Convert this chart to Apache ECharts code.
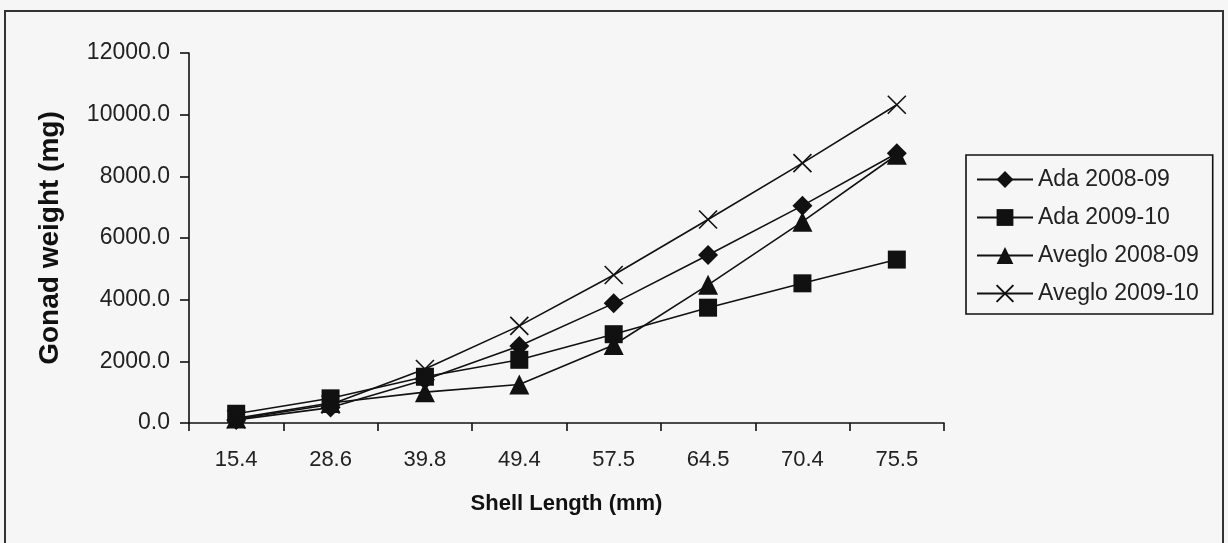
<!DOCTYPE html>
<html><head><meta charset="utf-8">
<script src="https://cdn.jsdelivr.net/npm/echarts@6/dist/echarts.min.js"></script>
<style>html,body{margin:0;padding:0;background:#f6f6f6;}#c{width:1228px;height:543px;}
#frame{position:absolute;left:4px;top:10px;width:1220px;height:560px;border:2px solid #333;box-sizing:border-box;pointer-events:none;}</style>
</head><body><div id="c"></div><div id="frame"></div>
<script>
const categories = ['15.4','28.6','39.8','49.4','57.5','64.5','70.4','75.5'];
const ada0809 = [100, 500, 1400, 2500, 3880, 5450, 7050, 8750];
const ada0910 = [300, 800, 1500, 2050, 2880, 3740, 4530, 5300];
const aveglo0809 = [150, 650, 1000, 1250, 2530, 4480, 6530, 8700];
const aveglo0910 = [120, 600, 1750, 3150, 4800, 6600, 8430, 10320];
const yTicks = [0, 2000, 4000, 6000, 8000, 10000, 12000];

const chart = echarts.init(document.getElementById('c'), null, {renderer:'canvas'});
const font = 'Liberation Sans, Arial, sans-serif';
function mk(name, data, symbol, size, extra){
  return Object.assign({
    name, type:'line', data, symbol, symbolSize:size,
    lineStyle:{color:'#111', width:1.6},
    itemStyle:{color:'#111'},
    emphasis:{disabled:true}, animation:false
  }, extra||{});
}
chart.setOption({
  backgroundColor:'#f6f6f6',
  animation:false,
  textStyle:{fontFamily:font},
  grid:{left:189, top:53, right:284, bottom:120},
  xAxis:{
    type:'category', data:categories, boundaryGap:true,
    axisLine:{lineStyle:{color:'#111', width:1.6}},
    axisTick:{show:true, length:8, alignWithLabel:false, lineStyle:{color:'#111', width:1.6}},
    axisLabel:{color:'#222', fontSize:22, margin:26, fontFamily:font},
    name:'Shell Length (mm)', nameLocation:'middle', nameGap:70,
    nameTextStyle:{color:'#111', fontSize:22, fontWeight:'bold', fontFamily:font}
  },
  yAxis:{
    type:'value', min:yTicks[0], max:yTicks[yTicks.length-1], interval:2000,
    axisLine:{show:true, lineStyle:{color:'#111', width:1.6}},
    axisTick:{show:true, length:9, lineStyle:{color:'#111', width:1.6}},
    splitLine:{show:false},
    axisLabel:{color:'#222', fontSize:23, margin:19, fontFamily:font, formatter:v=>v.toFixed(1)},
    name:'Gonad weight (mg)', nameLocation:'middle', nameGap:125, nameRotate:90,
    nameTextStyle:{color:'#111', fontSize:28, fontWeight:'bold', fontFamily:font}
  },
  legend:{
    orient:'vertical', left:966, top:155,
    padding:[13,14,9,10], itemGap:15, itemWidth:56, itemHeight:21,
    borderColor:'#111', borderWidth:1.6, backgroundColor:'#f6f6f6',
    textStyle:{color:'#222', fontSize:23, fontFamily:font},
    data:['Ada 2008-09','Ada 2009-10','Aveglo 2008-09','Aveglo 2009-10']
  },
  series:[
    mk('Ada 2008-09', ada0809, 'diamond', 20),
    mk('Ada 2009-10', ada0910, 'rect', 18),
    mk('Aveglo 2008-09', aveglo0809, 'triangle', 20),
    mk('Aveglo 2009-10', aveglo0910, 'path://M0,0 L10,10 M10,0 L0,10', 18,
       {itemStyle:{color:'none', borderColor:'#111', borderWidth:1.6}})
  ]
});
</script></body></html>
